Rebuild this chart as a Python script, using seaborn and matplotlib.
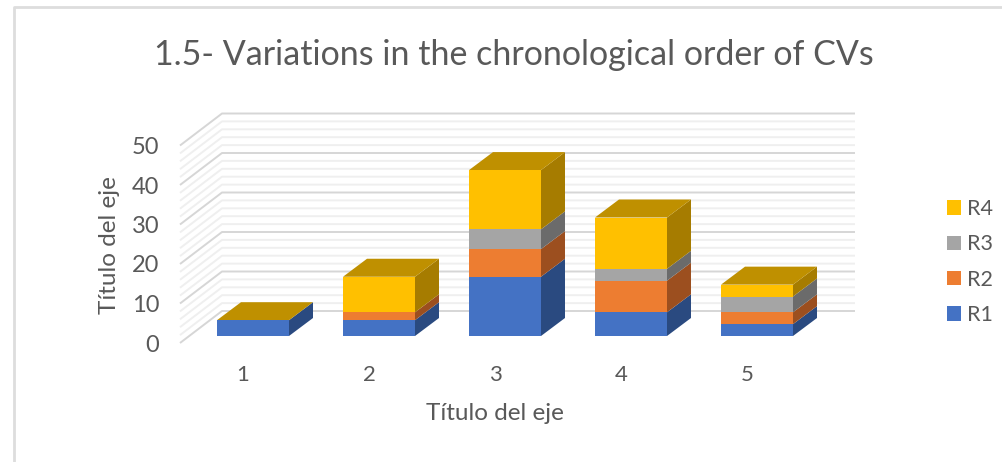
import numpy as np
import matplotlib
matplotlib.use("Agg")
import matplotlib.pyplot as plt
from matplotlib.lines import Line2D
from matplotlib.patches import Patch, Polygon
import seaborn as sns

categories = ["1", "2", "3", "4", "5"]
series_names = ["R1", "R2", "R3", "R4"]
r1 = [4, 4, 15, 6, 3]
r2 = [0, 2, 7, 8, 3]
r3 = [0, 0, 5, 3, 4]
r4 = [0, 9, 15, 13, 3]
front_colors = ["#4472C4", "#ED7D31", "#A5A5A5", "#FFC000"]
side_colors = ["#2A4A80", "#9C4F1F", "#6B6B6B", "#A67C00"]
top_color = "#BF9000"
y_ticks = [0, 10, 20, 30, 40, 50]

sns.set_theme(style="white")
plt.rcParams["font.family"] = ["Lato", "DejaVu Sans"]
W, H = 1003, 462
fig = plt.figure(figsize=(W / 100, H / 100), dpi=100, facecolor="white")

PX_X, PX_Y = 126.0, 3.95           # pixels per category, per unit
cx0, y0 = 253.0, 336.0             # pixel of category 0 centre, of value 0
L, R, T, B = 180.0, 860.0, 100.0, 343.0
ax = fig.add_axes([L / W, 1 - B / H, (R - L) / W, (B - T) / H])
ax.set_facecolor("none")
xpx = lambda p: (p - cx0) / PX_X
ypx = lambda p: (y0 - p) / PX_Y
dx, dy = 24 / PX_X, 18 / PX_Y      # depth of each bar
bw = 72 / PX_X

# walls
wall_dy = (y0 - 311) / PX_Y
front_dy = (y0 - 343) / PX_Y
for v in range(0, 51, 2):
    major = v % 10 == 0
    c, lw = ("#D6D6D6", 1.4) if major else ("#EFEFEF", 1.4)
    ax.plot([xpx(180), xpx(222), xpx(855)],
            [v + front_dy, v + wall_dy, v + wall_dy],
            color=c, lw=lw, zorder=1 if not major else 1.1, solid_capstyle="butt", clip_on=False)

# stacked bars
values = [r1, r2, r3, r4]
bottom = np.zeros(len(categories))
for vals, name, fc, sc in zip(values, series_names, front_colors, side_colors):
    vals = np.array(vals, float)
    sns.barplot(x=categories, y=vals, bottom=bottom, color=fc, saturation=1,
                width=bw, ax=ax, order=categories, zorder=4, errorbar=None,
                edgecolor="none", linewidth=0)
    for i in range(len(categories)):
        if vals[i] > 0:
            xr = i + bw / 2
            ax.add_patch(Polygon([(xr, bottom[i]), (xr + dx, bottom[i] + dy),
                                  (xr + dx, bottom[i] + vals[i] + dy), (xr, bottom[i] + vals[i])],
                                 closed=True, fc=sc, ec="none", zorder=3))
    bottom = bottom + vals
for i in range(len(categories)):
    xl, xr = i - bw / 2, i + bw / 2
    ax.add_patch(Polygon([(xl, bottom[i]), (xr, bottom[i]), (xr + dx, bottom[i] + dy), (xl + dx, bottom[i] + dy)],
                         closed=True, fc=top_color, ec="none", zorder=3))

ax.set_xlim(xpx(L), xpx(R))
ax.set_ylim(ypx(B), ypx(T))
sns.despine(ax=ax, left=True, bottom=True)
ax.grid(False)
ax.set_xticks([i - 10 / PX_X for i in range(len(categories))], categories)
ax.set_yticks([v + front_dy for v in y_ticks], [str(v) for v in y_ticks])
ax.tick_params(axis="x", length=0, pad=15.5, labelsize=16, labelcolor="#595959")
ax.tick_params(axis="y", length=0, pad=15, labelsize=17, labelcolor="#595959")
ax.set_xlabel("")
ax.set_ylabel("")

text_c = "#595959"
fig.text(514 / W, 1 - 55 / H, "1.5- Variations in the chronological order of CVs",
         ha="center", va="center", fontsize=24.5, color=text_c)
fig.text(495 / W, 1 - 413 / H, "Título del eje", ha="center", va="center", fontsize=17.5, color=text_c)
fig.text(110 / W, 1 - 245 / H, "Título del eje", ha="center", va="center", rotation=90, fontsize=17.5, color=text_c)

handles = [Patch(fc=c, ec="none") for c in front_colors[::-1]]
fig.legend(handles, series_names[::-1], loc="center left", bbox_to_anchor=(947 / W, 1 - 262 / H),
           frameon=False, fontsize=15.5, labelcolor=text_c, handlelength=0.65, handleheight=0.65,
           handletextpad=0.28, labelspacing=0.71, borderpad=0, borderaxespad=0)

# chart frame
fig.add_artist(Line2D([14.5 / W, 14.5 / W, 1], [0, 1 - 6.5 / H, 1 - 6.5 / H], color="#DDDDDD", lw=2))

fig.savefig("out.png", dpi=100)
